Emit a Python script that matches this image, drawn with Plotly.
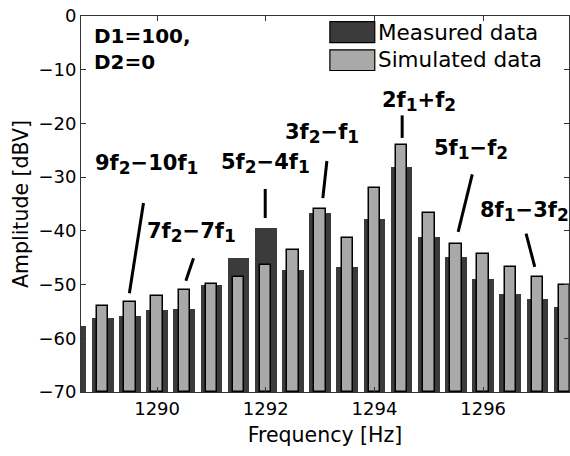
import plotly.graph_objects as go

# ---- data ----
freqs = [1288.5, 1289.0, 1289.5, 1290.0, 1290.5, 1291.0, 1291.5, 1292.0, 1292.5, 1293.0,
         1293.5, 1294.0, 1294.5, 1295.0, 1295.5, 1296.0, 1296.5, 1297.0, 1297.5]
measured = [-57.7, -56.3, -55.9, -54.7, -54.6, -50.1, -45.0, -39.4, -47.2, -36.6,
            -46.7, -37.8, -28.2, -41.1, -44.8, -48.9, -51.8, -52.7, -54.2]
simulated = [-54.9, -54.0, -53.2, -52.2, -51.1, -49.8, -48.5, -46.4, -43.6, -35.9,
             -41.4, -32.0, -24.0, -36.7, -42.4, -44.3, -46.7, -48.5, -50.0]
y_floor = -70
x_ticks = [1290, 1292, 1294, 1296]
y_ticks = [0, -10, -20, -30, -40, -50, -60, -70]

# annotation labels: (coef, f-index) pieces; text position; pointer line
label_parts = [[("9f", "2"), ("−10f", "1")], [("7f", "2"), ("−7f", "1")],
               [("5f", "2"), ("−4f", "1")], [("3f", "2"), ("−f", "1")],
               [("2f", "1"), ("+f", "2")], [("5f", "1"), ("−f", "2")],
               [("8f", "1"), ("−3f", "2")]]
label_x = [1289.80, 1290.63, 1292.00, 1293.04, 1294.82, 1295.78, 1296.76]
label_y = [-27.6, -40.3, -27.4, -21.9, -16.0, -24.9, -36.4]
line_x0 = [1289.49, 1290.53, 1291.99, 1293.05, 1294.51, 1295.54, 1296.95]
line_y0 = [-51.6, -49.3, -37.6, -33.9, -22.7, -40.2, -46.7]
line_x1 = [1289.75, 1290.67, 1291.99, 1293.125, 1294.51, 1295.80, 1296.79]
line_y1 = [-34.8, -45.1, -32.2, -27.0, -18.5, -29.5, -40.5]

FONT = "DejaVu Sans"
dark = "#3b3b3b"
light = "#a9a9a9"


def make_label(parts):
    s = ""
    for main, sub in parts:
        s += main + "<sub><span style='font-size:17px'>" + sub + "</span></sub>"
    return "<b>" + s + "</b>"


fig = go.Figure()
fig.add_trace(go.Bar(x=freqs, y=[m - y_floor for m in measured], base=y_floor,
                     width=0.4, marker=dict(color=dark, line=dict(width=0)),
                     name="Measured data"))
fig.add_trace(go.Bar(x=freqs, y=[s - y_floor for s in simulated], base=y_floor,
                     width=0.21, marker=dict(color=light, line=dict(width=1.5, color="black")),
                     name="Simulated data"))

shapes = []
annotations = []
for parts, tx, ty, a0, b0, a1, b1 in zip(label_parts, label_x, label_y, line_x0, line_y0, line_x1, line_y1):
    annotations.append(dict(x=tx, y=ty, xref="x", yref="y", text=make_label(parts),
                            showarrow=False, font=dict(family=FONT, size=21, color="black"),
                            xanchor="center", yanchor="middle"))
    shapes.append(dict(type="line", xref="x", yref="y", x0=a0, y0=b0, x1=a1, y1=b1,
                       line=dict(color="black", width=3)))

# D1/D2 text
annotations.append(dict(x=0.022, y=0.985, xref="paper", yref="paper",
                        text="<b>D1=100,<br>D2=0</b>", showarrow=False, align="left",
                        font=dict(family=FONT, size=20, color="black"),
                        xanchor="left", yanchor="top"))

# manual legend
leg_items = [("Measured data", dark, 0.985, 0.929, 0.957),
             ("Simulated data", light, 0.910, 0.855, 0.883)]
for name, col, ytop, ybot, ymid in leg_items:
    shapes.append(dict(type="rect", xref="paper", yref="paper", x0=0.510, x1=0.602,
                       y0=ybot, y1=ytop, fillcolor=col,
                       line=dict(color="black", width=1.2)))
    annotations.append(dict(x=0.605, y=ymid, xref="paper", yref="paper", text=name,
                            showarrow=False, xanchor="left", yanchor="middle",
                            font=dict(family=FONT, size=21.5, color="black")))

fig.update_layout(
    width=570, height=456,
    margin=dict(l=81, r=1, t=16, b=64),
    plot_bgcolor="white", paper_bgcolor="white",
    barmode="overlay", showlegend=False,
    shapes=shapes, annotations=annotations,
    font=dict(family=FONT, size=17, color="black"),
    bargap=0,
)
fig.update_xaxes(range=[1288.6, 1297.58], tickvals=x_ticks, ticks="inside", ticklen=5,
                 tickcolor="#333", showline=True, linecolor="#333", linewidth=1, mirror="ticks",
                 showgrid=False, zeroline=False,
                 title=dict(text="Frequency [Hz]", font=dict(family=FONT, size=20.5), standoff=10),
                 tickfont=dict(family=FONT, size=18))
fig.update_yaxes(range=[-70, 0], tickvals=y_ticks, ticks="inside", ticklen=5,
                 tickcolor="#333", showline=True, linecolor="#333", linewidth=1, mirror="ticks",
                 showgrid=False, zeroline=False,
                 title=dict(text="Amplitude [dBV]", font=dict(family=FONT, size=20.5), standoff=4),
                 tickfont=dict(family=FONT, size=18))

fig.write_html("out.html")
